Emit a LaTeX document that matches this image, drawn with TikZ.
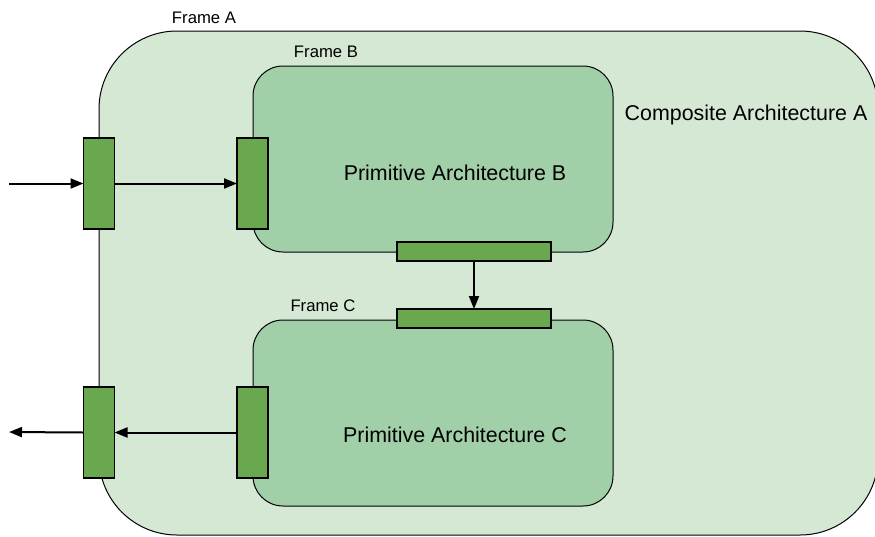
\documentclass[tikz,border=0pt]{standalone}
\usepackage{fontspec}
\setmainfont{Liberation Sans}
\usetikzlibrary{arrows.meta}
\definecolor{outerfill}{HTML}{D5E8D4}
\definecolor{innerfill}{HTML}{A0CFA8}
\definecolor{portfill}{HTML}{6AA84F}
\tikzset{
  framebox/.style={draw=black, line width=1pt, inner sep=0pt, outer sep=0pt},
  portbox/.style={draw=black, fill=portfill, line width=1.5pt, inner sep=0pt, outer sep=0pt},
  flow/.style={draw=black, line width=2pt, -{Triangle[length=13pt,width=10pt]}},
  smalllabel/.style={font=\fontsize{16.7}{19}\selectfont, inner sep=0pt},
  biglabel/.style={font=\fontsize{21.4}{25}\selectfont, inner sep=0pt},
}
\begin{document}
\begin{tikzpicture}[x=1pt, y=-1pt]
\useasboundingbox (0,0) rectangle (875,536);
% frames
\node[framebox, fill=outerfill, rounded corners=78pt, minimum width=779pt, minimum height=504pt] (frameA) at (488.5,283) {};
\node[framebox, fill=innerfill, rounded corners=30pt, minimum width=360pt, minimum height=186pt] (frameB) at (433,159) {};
\node[framebox, fill=innerfill, rounded corners=30pt, minimum width=360pt, minimum height=186pt] (frameC) at (433,413) {};
% ports
\node[portbox, minimum width=31pt, minimum height=91pt] (pAin) at (99,183.5) {};
\node[portbox, minimum width=31pt, minimum height=91pt] (pBin) at (252.5,183.5) {};
\node[portbox, minimum width=154pt, minimum height=19pt] (pBout) at (474,251.5) {};
\node[portbox, minimum width=154pt, minimum height=19pt] (pCin) at (474,318.5) {};
\node[portbox, minimum width=31pt, minimum height=91pt] (pAout) at (99,432.5) {};
\node[portbox, minimum width=31pt, minimum height=91pt] (pCout) at (252.5,432.5) {};
% connectors
\coordinate (inA) at (9,183.5);
\coordinate (outA) at (9,432);
\draw[flow] (inA) -- (pAin.west);
\draw[flow] (pAin.east) -- (pBin.west);
\draw[flow] (pBout.south) -- (pCin.north);
\draw[flow] (pCout.west) -- (pAout.east);
\draw[flow] (pAout.west) -- (outA);
% labels
\node[smalllabel] (labA) at (204,18) {Frame A};
\node[smalllabel] (labB) at (326,52) {Frame B};
\node[smalllabel] (labC) at (323,306) {Frame C};
\node[biglabel] (compA) at (746,115) {Composite Architecture A};
\node[biglabel] (primB) at (455,173) {Primitive Architecture B};
\node[biglabel] (primC) at (455,435) {Primitive Architecture C};
\end{tikzpicture}
\end{document}
